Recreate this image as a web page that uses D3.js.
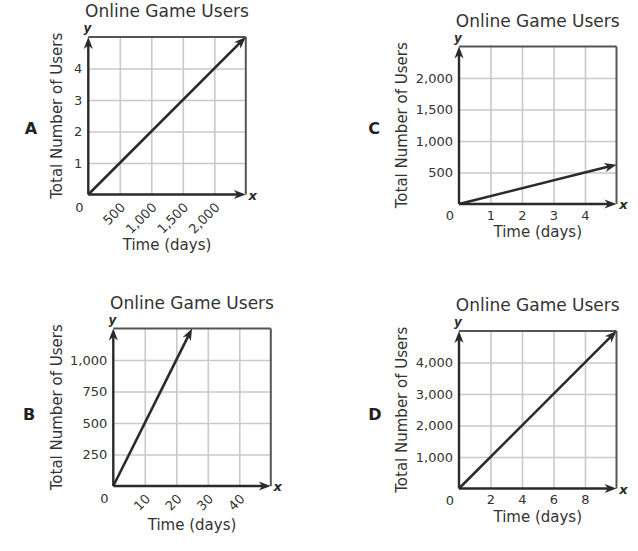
<!DOCTYPE html>
<html>
<head>
<meta charset="utf-8">
<script src="https://cdn.jsdelivr.net/npm/d3@7"></script>
<style>
  html, body { margin: 0; padding: 0; background: #fff; }
  svg { display: block; font-family: "DejaVu Sans", Verdana, sans-serif; }
</style>
</head>
<body>
<svg id="chart" width="638" height="551"></svg>
<script>
// ---------- data ----------
const panelLetters = ["A", "B", "C", "D"];
const chartTitle = "Online Game Users";
const xAxisTitle = "Time (days)";
const yAxisTitle = "Total Number of Users";

const xTicksA = [500, 1000, 1500, 2000];
const yTicksA = [1, 2, 3, 4];
const xMaxA = 2500, yMaxA = 5;
const lineA = [[0, 0], [2500, 5]];

const xTicksB = [10, 20, 30, 40];
const yTicksB = [250, 500, 750, 1000];
const xMaxB = 50, yMaxB = 1250;
const lineB = [[0, 0], [25, 1250]];

const xTicksC = [1, 2, 3, 4];
const yTicksC = [500, 1000, 1500, 2000];
const xMaxC = 5, yMaxC = 2500;
const lineC = [[0, 0], [5, 625]];

const xTicksD = [2, 4, 6, 8];
const yTicksD = [1000, 2000, 3000, 4000];
const xMaxD = 10, yMaxD = 5000;
const lineD = [[0, 0], [10, 5000]];

// ---------- layout ----------
const SIZE = 157.5;
const layout = {
  A: { x0: 88.3, y0: 37, rot: true,  yLabX: 62, xLabY: 250, letX: 31,  letY: 134 },
  B: { x0: 113.3, y0: 328.5, rot: true, yLabX: 62, xLabY: 530, letX: 29, letY: 420 },
  C: { x0: 459, y0: 46.5, rot: false, yLabX: 407, xLabY: 237, letX: 374, letY: 134 },
  D: { x0: 459, y0: 331, rot: false, yLabX: 407, xLabY: 521.5, letX: 375, letY: 420 }
};
const panelData = {
  A: { xt: xTicksA, yt: yTicksA, xm: xMaxA, ym: yMaxA, line: lineA },
  B: { xt: xTicksB, yt: yTicksB, xm: xMaxB, ym: yMaxB, line: lineB },
  C: { xt: xTicksC, yt: yTicksC, xm: xMaxC, ym: yMaxC, line: lineC },
  D: { xt: xTicksD, yt: yTicksD, xm: xMaxD, ym: yMaxD, line: lineD }
};

const INK = "#2a2a2a";
const GRID = "#c9c9c9";
const FRAME = "#555";
const FONT = "DejaVu Sans, Verdana, sans-serif";
const fmt = d3.format(",");

const svg = d3.select("#chart");

function arrowHead(g, x, y, angle) {
  g.append("path")
    .attr("d", "M0,0 L-12,-4.6 L-8.5,0 L-12,4.6 Z")
    .attr("transform", `translate(${x},${y}) rotate(${angle})`)
    .attr("fill", INK);
}

function arrowLine(g, x1, y1, x2, y2, w) {
  const ang = Math.atan2(y2 - y1, x2 - x1);
  const ex = x2 - Math.cos(ang) * 8, ey = y2 - Math.sin(ang) * 8;
  g.append("line")
    .attr("x1", x1).attr("y1", y1).attr("x2", ex).attr("y2", ey)
    .attr("stroke", INK).attr("stroke-width", w);
  arrowHead(g, x2, y2, ang * 180 / Math.PI);
}

panelLetters.forEach(k => {
  const L = layout[k], D = panelData[k];
  const g = svg.append("g").attr("transform", `translate(${L.x0},${L.y0})`);
  const x = d3.scaleLinear().domain([0, D.xm]).range([0, SIZE]);
  const y = d3.scaleLinear().domain([0, D.ym]).range([SIZE, 0]);

  // grid + x tick labels
  const gx = g.append("g").attr("transform", `translate(0,${SIZE})`)
    .call(d3.axisBottom(x).tickValues(D.xt).tickSize(-SIZE).tickPadding(6.5).tickFormat(fmt));
  gx.select(".domain").remove();
  gx.selectAll(".tick line").attr("stroke", GRID).attr("stroke-width", 1.6);
  gx.selectAll(".tick text")
    .attr("fill", "#333").style("font-size", "13px").style("font-family", FONT);
  if (L.rot) {
    gx.selectAll(".tick text")
      .attr("y", 0).attr("dy", "0.35em")
      .attr("text-anchor", "end")
      .attr("transform", "translate(2.5,10.5) rotate(-45)");
  }

  const gy = g.append("g")
    .call(d3.axisLeft(y).tickValues(D.yt).tickSize(-SIZE).tickPadding(6).tickFormat(fmt));
  gy.select(".domain").remove();
  gy.selectAll(".tick line").attr("stroke", GRID).attr("stroke-width", 1.6);
  gy.selectAll(".tick text")
    .attr("fill", "#333").style("font-size", "13px").style("font-family", FONT);

  // frame top + right
  g.append("line").attr("x1", 0).attr("x2", SIZE).attr("y1", 0).attr("y2", 0)
    .attr("stroke", FRAME).attr("stroke-width", 2);
  g.append("line").attr("x1", SIZE).attr("x2", SIZE).attr("y1", 0).attr("y2", SIZE)
    .attr("stroke", FRAME).attr("stroke-width", 2);

  // axes with arrows
  arrowLine(g, x(0), y(0), x(D.xm), y(0), 2.4);
  arrowLine(g, x(0), y(0), x(0), y(D.ym), 2.4);

  // data line
  const p0 = D.line[0], p1 = D.line[1];
  arrowLine(g, x(p0[0]), y(p0[1]), x(p1[0]), y(p1[1]), 2.6);

  // origin label
  g.append("text").attr("x", -9).attr("y", SIZE + (L.rot ? 17 : 16)).attr("text-anchor", "middle")
    .attr("fill", "#333").style("font-size", "13px").text("0");

  // axis letters
  g.append("text").attr("x", -1).attr("y", -5).attr("text-anchor", "middle")
    .attr("fill", INK).style("font-size", "12px").style("font-weight", "bold").style("font-style", "italic").text("y");
  g.append("text").attr("x", SIZE + 7).attr("y", SIZE + 5).attr("text-anchor", "middle")
    .attr("fill", INK).style("font-size", "13px").style("font-weight", "bold").style("font-style", "italic").text("x");

  // title
  svg.append("text").attr("x", L.x0 + SIZE / 2).attr("y", L.y0 - 20).attr("text-anchor", "middle")
    .attr("fill", "#333").style("font-size", "17px").text(chartTitle);
  // axis titles
  svg.append("text").attr("x", L.x0 + SIZE / 2).attr("y", L.xLabY).attr("text-anchor", "middle")
    .attr("fill", "#333").style("font-size", "15px").text(xAxisTitle);
  svg.append("text").attr("transform", `translate(${L.yLabX},${L.y0 + SIZE / 2}) rotate(-90)`)
    .attr("text-anchor", "middle").attr("fill", "#333").style("font-size", "15px").text(yAxisTitle);
  // panel letter
  svg.append("text").attr("x", L.letX).attr("y", L.letY).attr("text-anchor", "middle")
    .attr("fill", "#222").style("font-size", "16px").style("font-weight", "bold").text(k);
});
</script>
</body>
</html>
